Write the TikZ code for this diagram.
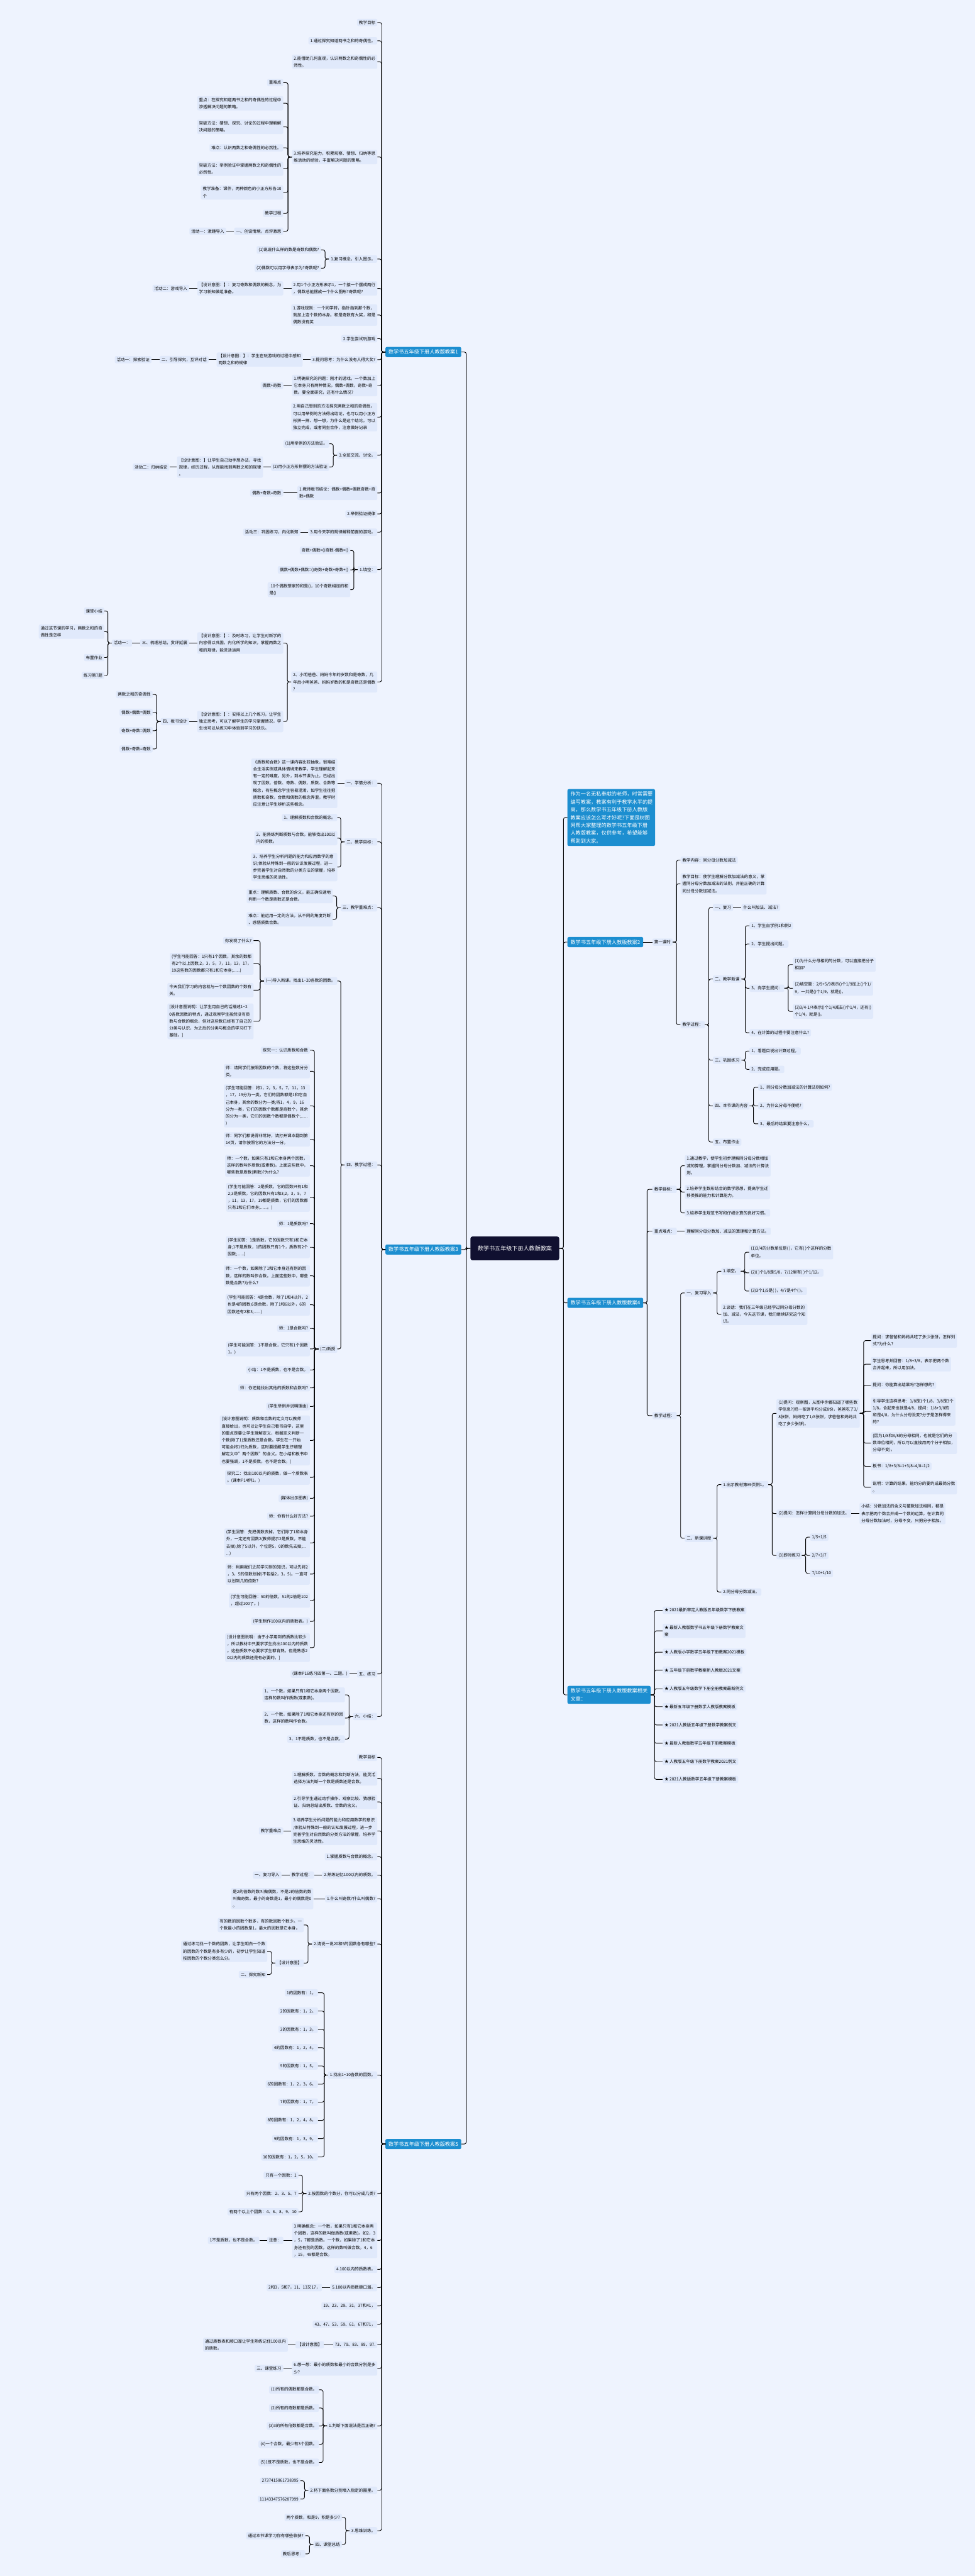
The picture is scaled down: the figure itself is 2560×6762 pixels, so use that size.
\documentclass[tikz,border=0pt]{standalone}
\usepackage{fontspec}
\setmainfont{Noto Sans CJK SC}
\usetikzlibrary{positioning}
\definecolor{Cfundo}{RGB}{238,243,254}
\definecolor{Ccaixa}{RGB}{224,233,251}
\definecolor{Cazul}{RGB}{28,142,208}
\definecolor{Cnoite}{RGB}{16,16,48}

\tikzset{
  caixa/.style={fill=Ccaixa, rounded corners=4pt, inner xsep=5pt, inner ysep=4.5pt,
    align=left, font=\fontsize{10.8}{18.5}\selectfont},
  esq/.style={caixa, anchor=east},
  dir/.style={caixa, anchor=west},
  ramo/.style={fill=Cazul, text=white, rounded corners=4pt, inner xsep=8pt, inner ysep=7pt,
    align=left, font=\fontsize{13.5}{20.5}\selectfont},
  liga/.style={draw=black, line width=1.5pt, rounded corners=5pt}
}

\begin{document}
\begin{tikzpicture}[x=1pt, y=-1pt]
  \fill[Cfundo] (0,0) rectangle (2560,6762);
  \useasboundingbox (0,0) rectangle (2560,6762);

  % centro
  \node[fill=Cnoite, text=white, rounded corners=5pt, inner xsep=19pt, inner ysep=24pt,
    font=\fontsize{15}{20}\selectfont] (C) at (1352,3277) {数学书五年级下册人教版教案};

  % ramos
  \node[ramo, anchor=west] (B1) at (1012,924) {数学书五年级下册人教版教案1};
  \node[ramo, anchor=west] (B3) at (1012,3280) {数学书五年级下册人教版教案3};
  \node[ramo, anchor=west] (B5) at (1012,5628) {数学书五年级下册人教版教案5};
  \node[ramo, anchor=west, text width=214pt] (I) at (1490,2146) {作为一名无私奉献的老师，时常需要\\编写教案，教案有利于教学水平的提\\高。那么数学书五年级下册人教版\\教案应该怎么写才好呢?下面是树图\\网帮大家整理的数学书五年级下册\\人教版教案，仅供参考，希望能够\\帮助到大家。};
  \node[ramo, anchor=west] (B2) at (1490,2473) {数学书五年级下册人教版教案2};
  \node[ramo, anchor=west] (B4) at (1490,3420) {数学书五年级下册人教版教案4};
  \node[ramo, anchor=west] (B6) at (1490,4449) {数学书五年级下册人教版教案相关\\文章：};

  \foreach \n in {B1,B3,B5} \draw[liga] (C.west) -- ++(-11,0) |- (\n.east);
  \foreach \n in {I,B2,B4,B6} \draw[liga] (C.east) -- ++(11,0) |- (\n.west);

  % ---------- 教案1 ----------
  \node[esq] (a1) at (991,59) {教学目标};
  \node[esq] (a2) at (991,107) {1.通过探究知道两书之和的奇偶性。};
  \node[esq] (a3) at (991,162) {2.能借助几何直观，认识两数之和奇偶性的必\\然性。};
  \node[esq] (a4) at (991,412) {3.培养探究能力，积累观察、猜想、归纳等思\\维活动的经验，丰富解决问题的策略。};
  \node[esq] (a5) at (991,680) {1.复习概念，引入图示。};
  \node[esq] (a6) at (991,757) {2.用1个小正方形表示1，一个接一个摆成两行\\，偶数总能摆成一个什么图形?奇数呢?};
  \node[esq] (a7) at (991,827) {1.游戏规则：一个同学转，指针指到那个数，\\就加上这个数的本身。和是奇数有大奖，和是\\偶数没有奖};
  \node[esq] (a8) at (991,889) {2.学生尝试玩游戏};
  \node[esq] (a9) at (991,944) {3.提问思考：为什么没有人得大奖?};
  \node[esq] (a10) at (991,1012) {1.明确探究的问题：刚才的游戏，一个数加上\\它本身只有两种情况，偶数+偶数，奇数+奇\\数。要全面研究，还有什么情况?};
  \node[esq] (a11) at (991,1095) {2.用自己想到的方法探究两数之和的奇偶性。\\可以用举例的方法得出结论，也可以用小正方\\形拼一拼、想一想，为什么是这个结论。可以\\独立完成，或者同坐合作，注意做好记录};
  \node[esq] (a12) at (991,1195) {3.全班交流、讨论。};
  \node[esq] (a13) at (991,1294) {1.教师板书结论：偶数+偶数=偶数奇数+奇\\数=偶数};
  \node[esq] (a14) at (991,1349) {2.举例验证规律};
  \node[esq] (a15) at (991,1397) {3.用今天学的规律解释前面的游戏。};
  \node[esq] (a16) at (991,1495) {1.填空：};
  \node[esq] (a17) at (991,1790) {2、小明爸爸、妈妈今年的岁数和是奇数，几\\年后小明爸爸、妈妈岁数的和是奇数还是偶数\\?};
  \foreach \n in {a1,a2,a3,a4,a5,a6,a7,a8,a9,a10,a11,a12,a13,a14,a15,a16,a17}
    \draw[liga] (B1.west) -- ++(-10,0) |- (\n.east);

  \node[esq] (a4a) at (744,217) {重难点};
  \node[esq] (a4b) at (744,271) {重点：在探究知道两书之和的奇偶性的过程中\\渗透解决问题的策略。};
  \node[esq] (a4c) at (744,333) {突破方法：猜想、探究、讨论的过程中理解解\\决问题的策略。};
  \node[esq] (a4d) at (744,388) {难点：认识两数之和奇偶性的必然性。};
  \node[esq] (a4e) at (744,443) {突破方法：举例验证中掌握两数之和奇偶性的\\必然性。};
  \node[esq] (a4f) at (744,505) {教学准备：课件，两种颜色的小正方形各10\\个};
  \node[esq] (a4g) at (744,560) {教学过程};
  \node[esq] (a4h) at (744,607) {一、创设情境，点评激思};
  \node[esq] (a4i) at (594,607) {活动一：激趣导入};
  \foreach \n in {a4a,a4b,a4c,a4d,a4e,a4f,a4g,a4h}
    \draw[liga] (a4.west) -- ++(-10,0) |- (\n.east);
  \draw[liga] (a4h.west) -- (a4i.east);

  \node[esq] (a5a) at (843,656) {(1)说说什么样的数是奇数和偶数?};
  \node[esq] (a5b) at (843,704) {(2)偶数可以用字母表示为?奇数呢?};
  \foreach \n in {a5a,a5b} \draw[liga] (a5.west) -- ++(-10,0) |- (\n.east);

  \node[esq] (a6a) at (744,757) {【设计意图：】：复习奇数和偶数的概念，为\\学习新知做组准备。};
  \node[esq] (a6b) at (497,757) {活动二：游戏导入};
  \draw[liga] (a6.west) -- (a6a.east);
  \draw[liga] (a6a.west) -- (a6b.east);

  \node[esq] (a9a) at (795,944) {【设计意图：】：学生在玩游戏的过程中感知\\两数之和的规律};
  \node[esq] (a9b) at (548,944) {二、引导探究，互评对话};
  \node[esq] (a9c) at (398,944) {活动一：探索验证};
  \draw[liga] (a9.west) -- (a9a.east);
  \draw[liga] (a9a.west) -- (a9b.east);
  \draw[liga] (a9b.west) -- (a9c.east);

  \node[esq] (a10a) at (744,1012) {偶数+奇数};
  \draw[liga] (a10.west) -- (a10a.east);

  \node[esq] (a12a) at (865,1165) {(1)用举例的方法验证。};
  \node[esq] (a12b) at (865,1226) {(2)用小正方形拼摆的方法验证};
  \foreach \n in {a12a,a12b} \draw[liga] (a12.west) -- ++(-10,0) |- (\n.east);
  \node[esq] (a12c) at (691,1226) {【设计意图：】让学生自己动手想办法，寻找\\规律，经历过程，从而能找到两数之和的规律\\。};
  \node[esq] (a12d) at (445,1226) {活动二：归纳结论};
  \draw[liga] (a12b.west) -- (a12c.east);
  \draw[liga] (a12c.west) -- (a12d.east);

  \node[esq] (a13a) at (744,1294) {偶数+奇数=奇数};
  \draw[liga] (a13.west) -- (a13a.east);
  \node[esq] (a15a) at (789,1397) {活动三：巩固练习，内化新知};
  \draw[liga] (a15.west) -- (a15a.east);

  \node[esq] (a16a) at (920,1445) {奇数+偶数=()奇数-偶数=()};
  \node[esq] (a16b) at (920,1496) {偶数+偶数+偶数=()奇数+奇数+奇数+()};
  \node[esq] (a16c) at (920,1548) {.10个偶数想家的和是()，10个奇数相加的和\\是()};
  \foreach \n in {a16a,a16b,a16c} \draw[liga] (a16.west) -- ++(-10,0) |- (\n.east);

  \node[esq] (a17a) at (744,1688) {【设计意图：】：及时练习，让学生对新学的\\内容得以巩固，内化所学的知识，掌握两数之\\和的规律，能灵活运用};
  \node[esq] (a17d) at (744,1894) {【设计意图：】：安排以上几个练习，让学生\\独立思考，可以了解学生的学习掌握情况，学\\生也可以从练习中体验到学习的快乐。};
  \foreach \n in {a17a,a17d} \draw[liga] (a17.west) -- ++(-10,0) |- (\n.east);
  \node[esq] (a17b) at (497,1688) {三、梳理总结，赏评延展};
  \node[esq] (a17c) at (347,1688) {活动一：};
  \draw[liga] (a17a.west) -- (a17b.east);
  \draw[liga] (a17b.west) -- (a17c.east);
  \node[esq] (p1) at (274,1604) {课堂小结};
  \node[esq] (p2) at (274,1658) {通过这节课的学习，两数之和的奇\\偶性是怎样};
  \node[esq] (p3) at (274,1726) {布置作业};
  \node[esq] (p4) at (274,1773) {练习第7题};
  \foreach \n in {p1,p2,p3,p4} \draw[liga] (a17c.west) -- ++(-10,0) |- (\n.east);

  \node[esq] (a17e) at (497,1894) {四、板书设计};
  \draw[liga] (a17d.west) -- (a17e.east);
  \node[esq] (q1) at (401,1823) {两数之和的奇偶性};
  \node[esq] (q2) at (401,1870) {偶数+偶数=偶数};
  \node[esq] (q3) at (401,1918) {奇数+奇数=偶数};
  \node[esq] (q4) at (401,1966) {偶数+奇数=奇数};
  \foreach \n in {q1,q2,q3,q4} \draw[liga] (a17e.west) -- ++(-10,0) |- (\n.east);

  % ---------- 教案3 ----------
  \node[esq] (c1) at (991,2056) {一、学情分析：};
  \node[esq] (c2) at (991,2210) {二、教学目标：};
  \node[esq] (c3) at (991,2383) {三、教学重难点：};
  \node[esq] (c4) at (991,3058) {四、教学过程：};
  \node[esq] (c5) at (991,4394) {五、练习};
  \node[esq] (c6) at (991,4506) {六、小结：};
  \foreach \n in {c1,c2,c3,c4,c5,c6} \draw[liga] (B3.west) -- ++(-10,0) |- (\n.east);

  \node[esq] (c1a) at (886,2056) {《质数和合数》这一课内容比较抽象，很难结\\合生活实例或具体情境来教学，学生理解起来\\有一定的难度。另外，到本节课为止，已经出\\现了因数、倍数、奇数、偶数、质数、合数等\\概念，有些概念学生容易混淆，如学生往往把\\质数和奇数，合数和偶数的概念弄混，教学时\\应注意让学生辨析这些概念。};
  \draw[liga] (c1.west) -- (c1a.east);

  \node[esq] (c2a) at (886,2146) {1、理解质数和合数的概念。};
  \node[esq] (c2b) at (886,2200) {2、能熟练判断质数与合数，能够找出100以\\内的质数。};
  \node[esq] (c2c) at (886,2276) {3、培养学生分析问题的能力和应用数学的意\\识;体验从特殊到一般的认识发展过程，进一\\步完善学生对自然数的分类方法的掌握，培养\\学生思维的灵活性。};
  \foreach \n in {c2a,c2b,c2c} \draw[liga] (c2.west) -- ++(-10,0) |- (\n.east);

  \node[esq] (c3a) at (874,2352) {重点：理解质数、合数的含义，能正确快速地\\判断一个数是质数还是合数。};
  \node[esq] (c3b) at (874,2413) {难点：能运用一定的方法，从不同的角度判断\\、感悟质数合数。};
  \foreach \n in {c3a,c3b} \draw[liga] (c3.west) -- ++(-10,0) |- (\n.east);

  \node[esq] (c4a) at (886,2575) {(一)导入新课。找出1\textasciitilde20各数的因数。};
  \node[esq] (c4b) at (886,3541) {(二)新授};
  \foreach \n in {c4a,c4b} \draw[liga] (c4.west) -- ++(-10,0) |- (\n.east);

  \node[esq] (d1) at (666,2469) {你发现了什么?};
  \node[esq] (d2) at (666,2530) {(学生可能回答：1只有1个因数，其余的数都\\有2个以上因数;2，3，5，7，11，13，17，\\19这些数的因数都只有1和它本身;......)};
  \node[esq] (d3) at (666,2599) {今天我们学习的内容就与一个数因数的个数有\\关。};
  \node[esq] (d4) at (666,2681) {[设计意图说明：让学生用自己的话描述1\textasciitilde2\\0各数因数的特点，通过观察学生虽然没有质\\数与合数的概念，但对这些数已经有了自己的\\分类与认识，为之后的分类与概念的学习打下\\基础。]};
  \foreach \n in {d1,d2,d3,d4} \draw[liga] (c4a.west) -- ++(-10,0) |- (\n.east);

  \node[esq] (f1) at (814,2757) {探究一：认识质数和合数};
  \node[esq] (f2) at (814,2812) {师：请同学们按照因数的个数，将这些数分分\\类。};
  \node[esq] (f3) at (814,2903) {(学生可能回答：将1，2，3，5，7，11，13\\，17，19分为一类，它们的因数都是1和它自\\己本身，其余的数分为一类;将1，4，9，16\\分为一类，它们的因数个数都是奇数个，其余\\的分为一类，它们的因数个数都是偶数个;......\\)};
  \node[esq] (f4) at (814,2991) {师：同学们都说得非常好，请打开课本翻到第\\14页，请你按照它的方法分一分。};
  \node[esq] (f5) at (814,3060) {师：一个数，如果只有1和它本身两个因数，\\这样的数叫作质数(或素数)。上面这些数中，\\哪些数是质数(素数)?为什么?};
  \node[esq] (f6) at (814,3143) {(学生可能回答：2是质数，它的因数只有1和\\2;3是质数，它的因数只有1和3;2，3，5，7\\，11，13，17，19都是质数，它们的因数都\\只有1和它们本身;......。)};
  \node[esq] (f7) at (814,3212) {师：1是质数吗?};
  \node[esq] (f8) at (814,3274) {(学生回答：1是质数，它的因数只有1和它本\\身;1不是质数，1的因数只有1个，质数有2个\\因数;......)};
  \node[esq] (f9) at (814,3349) {师：一个数，如果除了1和它本身还有别的因\\数，这样的数叫作合数。上面这些数中，哪些\\数是合数?为什么?};
  \node[esq] (f10) at (814,3425) {(学生可能回答：4是合数，除了1和4以外，2\\也是4的因数;6是合数，除了1和6以外，6的\\因数还有2和3;......)};
  \node[esq] (f11) at (814,3487) {师：1是合数吗?};
  \node[esq] (f12) at (814,3541) {(学生可能回答：1不是合数，它只有1个因数\\1。)};
  \node[esq] (f13) at (814,3596) {小结：1不是质数，也不是合数。};
  \node[esq] (f14) at (814,3643) {师：你还能找出其他的质数和合数吗?};
  \node[esq] (f15) at (814,3692) {(学生举例并说明理由)};
  \node[esq] (f16) at (814,3781) {[设计意图说明：质数和合数的定义可以教师\\直接给出，也可以让学生自己看书自学，这里\\的重点是要让学生理解定义，根据定义判断一\\个数(除了1)是质数还是合数。学生在一开始\\可能会将1归为质数，这时要提醒学生仔细理\\解定义中"两个因数"的含义。在小结和板书中\\也要强调，1不是质数，也不是合数。]};
  \node[esq] (f17) at (814,3878) {探究二：找出100以内的质数，做一个质数表\\。(课本P14例1。)};
  \node[esq] (f18) at (814,3933) {(媒体出示图表)};
  \node[esq] (f19) at (814,3980) {师：你有什么好方法?};
  \node[esq] (f20) at (814,4050) {(学生回答：先把偶数去掉，它们除了1和本身\\外，一定还有因数2(教师提示2是质数，不能\\去掉);除了5以外，个位是5，0的数先去掉;...\\...)};
  \node[esq] (f21) at (814,4132) {师：利用我们之前学习到的知识，可以先将2\\，3，5的倍数划掉(不包括2，3，5)。一直可\\以划到几的倍数?};
  \node[esq] (f22) at (814,4201) {(学生可能回答：50的倍数，51的2倍是102\\，超过100了。)};
  \node[esq] (f23) at (814,4256) {(学生制作100以内的质数表。)};
  \node[esq] (f24) at (814,4325) {[设计意图说明：由于小学用到的质数比较少\\，所以教材中只要求学生找出100以内的质数\\。这些质数不必要求学生都背熟，但是熟悉2\\0以内的质数还是有必要的。]};
  \foreach \n in {f1,f2,f3,f4,f5,f6,f7,f8,f9,f10,f11,f12,f13,f14,f15,f16,f17,f18,f19,f20,f21,f22,f23,f24}
    \draw[liga] (c4b.west) -- ++(-10,0) |- (\n.east);

  \node[esq] (c5a) at (918,4394) {(课本P16练习四第一、二题。)};
  \draw[liga] (c5.west) -- (c5a.east);

  \node[esq] (g1) at (906,4449) {1、一个数，如果只有1和它本身两个因数，\\这样的数叫作质数(或素数)。};
  \node[esq] (g2) at (906,4510) {2、一个数，如果除了1和它本身还有别的因\\数，这样的数叫作合数。};
  \node[esq] (g3) at (906,4565) {3、1不是质数，也不是合数。};
  \foreach \n in {g1,g2,g3} \draw[liga] (c6.west) -- ++(-10,0) |- (\n.east);

  % ---------- 教案5 ----------
  \node[esq] (e1) at (991,4613) {教学目标};
  \node[esq] (e2) at (991,4668) {1.理解质数、合数的概念和判断方法，能灵活\\选择方法判断一个数是质数还是合数。};
  \node[esq] (e3) at (991,4730) {2.引导学生通过动手操作、观察比较、猜想验\\证、归纳总结出质数、合数的含义。};
  \node[esq] (e4) at (991,4806) {3.培养学生分析问题的能力和应用数学的意识\\;体验从特殊到一般的认知发展过程，进一步\\完善学生对自然数的分类方法的掌握，培养学\\生思维的灵活性。};
  \node[esq] (e5) at (991,4874) {1.掌握质数与合数的概念。};
  \node[esq] (e6) at (991,4922) {2.熟练记忆100以内的质数。};
  \node[esq] (e7) at (991,4984) {1.什么叫奇数?什么叫偶数?};
  \node[esq] (e8) at (991,5103) {2.请说一说20和5的因数各有哪些?};
  \node[esq] (e9) at (991,5447) {1.找出1\textasciitilde10各数的因数。};
  \node[esq] (e10) at (991,5758) {2.按因数的个数分，你可以分成几类?};
  \node[esq] (e11) at (991,5881) {3.明确概念：一个数，如果只有1和它本身两\\个因数，这样的数叫做质数(或素数)。如2，3\\，5，7都是质数。一个数，如果除了1和它本\\身还有别的因数，这样的数叫做合数。4，6\\，15，49都是合数。};
  \node[esq] (e12) at (991,5957) {4.100以内的质数表。};
  \node[esq] (e13) at (991,6005) {5.100以内质数顺口溜。};
  \node[esq] (e14) at (991,6053) {19、23、29、31，37和41，};
  \node[esq] (e15) at (991,6101) {43、47、53、59、61，67和71，};
  \node[esq] (e16) at (991,6155) {73、79、83、89、97.};
  \node[esq] (e17) at (991,6217) {6.想一想：最小的质数和最小的合数分别是多\\少?};
  \node[esq] (e18) at (991,6368) {1.判断下面说法是否正确?};
  \node[esq] (e19) at (991,6537) {2.将下面各数分别填入指定的圈里。};
  \node[esq] (e20) at (991,6643) {3.思维训练。};
  \foreach \n in {e1,e2,e3,e4,e5,e6,e7,e8,e9,e10,e11,e12,e13,e14,e15,e16,e17,e18,e19,e20}
    \draw[liga] (B5.west) -- ++(-10,0) |- (\n.east);

  \node[esq] (e4a) at (744,4806) {教学重难点};
  \draw[liga] (e4.west) -- (e4a.east);
  \node[esq] (e6a) at (825,4922) {教学过程：};
  \node[esq] (e6b) at (739,4922) {一、复习导入};
  \draw[liga] (e6.west) -- (e6a.east);
  \draw[liga] (e6a.west) -- (e6b.east);
  \node[esq] (e7a) at (823,4984) {是2的倍数的数叫做偶数，不是2的倍数的数\\叫做奇数。最小的奇数是1，最小的偶数是0\\。};
  \draw[liga] (e7.west) -- (e7a.east);

  \node[esq] (e8a) at (798,5053) {有的数的因数个数多，有的数因数个数少。一\\个数最小的因数是1，最大的因数是它本身。};
  \node[esq] (e8b) at (798,5153) {【设计意图】};
  \foreach \n in {e8a,e8b} \draw[liga] (e8.west) -- ++(-10,0) |- (\n.east);
  \node[esq] (e8c) at (702,5122) {通过练习找一个数的因数，让学生明白一个数\\的因数的个数是有多有少的，初步让学生知道\\按因数的个数分类怎么分。};
  \node[esq] (e8d) at (702,5183) {二、探究新知};
  \foreach \n in {e8c,e8d} \draw[liga] (e8b.west) -- ++(-10,0) |- (\n.east);

  \node[esq] (h1) at (835,5231) {1的因数有：1。};
  \node[esq] (h2) at (835,5279) {2的因数有：1，2。};
  \node[esq] (h3) at (835,5327) {3的因数有：1，3。};
  \node[esq] (h4) at (835,5375) {4的因数有：1，2，4。};
  \node[esq] (h5) at (835,5423) {5的因数有：1，5。};
  \node[esq] (h6) at (835,5471) {6的因数有：1，2，3，6。};
  \node[esq] (h7) at (835,5518) {7的因数有：1，7。};
  \node[esq] (h8) at (835,5566) {8的因数有：1，2，4，8。};
  \node[esq] (h9) at (835,5614) {9的因数有：1，3，9。};
  \node[esq] (h10) at (835,5662) {10的因数有：1，2，5，10。};
  \foreach \n in {h1,h2,h3,h4,h5,h6,h7,h8,h9,h10} \draw[liga] (e9.west) -- ++(-10,0) |- (\n.east);

  \node[esq] (e10a) at (784,5710) {只有一个因数：1};
  \node[esq] (e10b) at (784,5758) {只有两个因数：2、3、5、7};
  \node[esq] (e10c) at (784,5806) {有两个以上个因数：4、6、8、9、10};
  \foreach \n in {e10a,e10b,e10c} \draw[liga] (e10.west) -- ++(-10,0) |- (\n.east);

  \node[esq] (e11a) at (744,5881) {注意：};
  \node[esq] (e11b) at (681,5881) {1不是质数，也不是合数。};
  \draw[liga] (e11.west) -- (e11a.east);
  \draw[liga] (e11a.west) -- (e11b.east);

  \node[esq] (e13a) at (846,6005) {2和3，5和7，11、13又17，};
  \draw[liga] (e13.west) -- (e13a.east);
  \node[esq] (e16a) at (851,6155) {【设计意图】};
  \node[esq] (e16b) at (756,6155) {通过质数表和顺口溜让学生熟练记住100以内\\的质数。};
  \draw[liga] (e16.west) -- (e16a.east);
  \draw[liga] (e16a.west) -- (e16b.east);
  \node[esq] (e17a) at (744,6217) {三、课堂练习};
  \draw[liga] (e17.west) -- (e17a.east);

  \node[esq] (k1) at (838,6273) {(1)所有的偶数都是合数。};
  \node[esq] (k2) at (838,6321) {(2)所有的奇数都是质数。};
  \node[esq] (k3) at (838,6368) {(3)3的所有倍数都是合数。};
  \node[esq] (k4) at (838,6416) {(4)一个合数，最少有3个因数。};
  \node[esq] (k5) at (838,6464) {(5)1既不是质数，也不是合数。};
  \foreach \n in {k1,k2,k3,k4,k5} \draw[liga] (e18.west) -- ++(-10,0) |- (\n.east);

  \node[esq] (m1) at (789,6512) {2737415861738395};
  \node[esq] (m2) at (789,6560) {11143347576287999};
  \foreach \n in {m1,m2} \draw[liga] (e19.west) -- ++(-10,0) |- (\n.east);

  \node[esq] (n1) at (898,6608) {两个质数，和是9，积是多少?};
  \node[esq] (n2) at (898,6679) {四、课堂总结};
  \foreach \n in {n1,n2} \draw[liga] (e20.west) -- ++(-10,0) |- (\n.east);
  \node[esq] (n3) at (802,6656) {通过本节课学习你有哪些收获?};
  \node[esq] (n4) at (802,6704) {教后思考：};
  \foreach \n in {n3,n4} \draw[liga] (n2.west) -- ++(-10,0) |- (\n.east);

  % ---------- 教案2 ----------
  \node[dir] (r0) at (1713,2473) {第一课时};
  \draw[liga] (B2.east) -- (r0.west);
  \node[dir] (r1) at (1787,2258) {教学内容：同分母分数加减法};
  \node[dir] (r2) at (1787,2320) {教学目标：使学生理解分数加减法的意义，掌\\握同分母分数加减法的法则，并能正确的计算\\同分母分数加减法。};
  \node[dir] (r3) at (1787,2690) {教学过程：};
  \foreach \n in {r1,r2,r3} \draw[liga] (r0.east) -- ++(10,0) |- (\n.west);

  \node[dir] (s1) at (1872,2382) {一、复习};
  \node[dir] (s2) at (1872,2570) {二、教学新课};
  \node[dir] (s3) at (1872,2783) {三、巩固练习};
  \node[dir] (s4) at (1872,2903) {四、本节课的内容};
  \node[dir] (s5) at (1872,2998) {五、布置作业};
  \foreach \n in {s1,s2,s3,s4,s5} \draw[liga] (r3.east) -- ++(10,0) |- (\n.west);

  \node[dir] (s1a) at (1947,2382) {什么叫加法、减法?};
  \draw[liga] (s1.east) -- (s1a.west);

  \node[dir] (s2a) at (1968,2430) {1、学生自学例1和例2};
  \node[dir] (s2b) at (1968,2478) {2、学生提出问题。};
  \node[dir] (s2c) at (1968,2594) {3、向学生提问：};
  \node[dir] (s2d) at (1968,2711) {4、在计算的过程中要注意什么?};
  \foreach \n in {s2a,s2b,s2c,s2d} \draw[liga] (s2.east) -- ++(10,0) |- (\n.west);

  \node[dir] (t1) at (2082,2532) {(1)为什么分母相同的分数，可以直接把分子\\相加?};
  \node[dir] (t2) at (2082,2594) {(2)填空题：2/9+5/9表示()个1/9加上()个1/\\9，一共是()个1/9，就是()。};
  \node[dir] (t3) at (2082,2655) {(3)3/4-1/4表示()个1/4减去()个1/4，还有()\\个1/4，就是()。};
  \foreach \n in {t1,t2,t3} \draw[liga] (s2c.east) -- ++(10,0) |- (\n.west);

  \node[dir] (s3a) at (1968,2759) {1、看题目说出计算过程。};
  \node[dir] (s3b) at (1968,2807) {2、完成应用题。};
  \foreach \n in {s3a,s3b} \draw[liga] (s3.east) -- ++(10,0) |- (\n.west);

  \node[dir] (s4a) at (1991,2854) {1、同分母分数加减法的计算法则如何?};
  \node[dir] (s4b) at (1991,2903) {2、为什么分母不便呢?};
  \node[dir] (s4c) at (1991,2950) {3、最后的结果要注意什么。};
  \foreach \n in {s4a,s4b,s4c} \draw[liga] (s4.east) -- ++(10,0) |- (\n.west);

  % ---------- 教案4 ----------
  \node[dir] (u1) at (1713,3122) {教学目标：};
  \node[dir] (u2) at (1713,3232) {重点难点：};
  \node[dir] (u3) at (1713,3716) {教学过程：};
  \foreach \n in {u1,u2,u3} \draw[liga] (B4.east) -- ++(10,0) |- (\n.west);

  \node[dir] (u1a) at (1798,3060) {1.通过教学，使学生初步理解同分母分数相加\\减的算理，掌握同分母分数加、减法的计算法\\则。};
  \node[dir] (u1b) at (1798,3129) {2.培养学生数形结合的数学思想，提高学生迁\\移类推的能力和计算能力。};
  \node[dir] (u1c) at (1798,3184) {3.培养学生规范书写和仔细计算的良好习惯。};
  \foreach \n in {u1a,u1b,u1c} \draw[liga] (u1.east) -- ++(10,0) |- (\n.west);
  \node[dir] (u2a) at (1798,3232) {理解同分母分数加、减法的算理和计算方法。};
  \draw[liga] (u2.east) -- (u2a.west);

  \node[dir] (v1) at (1798,3394) {一、复习导入};
  \node[dir] (v2) at (1798,4038) {二、新课讲授};
  \foreach \n in {v1,v2} \draw[liga] (u3.east) -- ++(10,0) |- (\n.west);

  \node[dir] (w1) at (1894,3337) {1.填空。};
  \node[dir] (w2) at (1894,3450) {2.谈话：我们在三年级已经学过同分母分数的\\加、减法，今天这节课，我们继续研究这个知\\识。};
  \foreach \n in {w1,w2} \draw[liga] (v1.east) -- ++(10,0) |- (\n.west);
  \node[dir] (w1a) at (1967,3287) {(1)3/4的分数单位是( )，它有( )个这样的分数\\单位。};
  \node[dir] (w1b) at (1967,3341) {(2)( )个1/8是5/8，7/12里有( )个1/12。};
  \node[dir] (w1c) at (1967,3389) {(3)3个1/5是( )，4/7是4个( )。};
  \foreach \n in {w1a,w1b,w1c} \draw[liga] (w1.east) -- ++(10,0) |- (\n.west);

  \node[dir] (x1) at (1894,3897) {1.出示教材第89页例1。};
  \node[dir] (x2) at (1894,4179) {2.同分母分数减法。};
  \foreach \n in {x1,x2} \draw[liga] (v2.east) -- ++(10,0) |- (\n.west);

  \node[dir] (y1) at (2039,3710) {(1)提问：观察图，从图中你都知道了哪些数\\学信息?(把一张饼平均分成8份，爸爸吃了3/\\8张饼，妈妈吃了1/8张饼，求爸爸和妈妈共\\吃了多少张饼)。};
  \node[dir] (y2) at (2039,3973) {(2)提问：怎样计算同分母分数的加法。};
  \node[dir] (y3) at (2039,4083) {(3)即时练习};
  \foreach \n in {y1,y2,y3} \draw[liga] (x1.east) -- ++(10,0) |- (\n.west);

  \node[dir] (z1) at (2287,3519) {提问：求爸爸和妈妈共吃了多少张饼，怎样列\\式?为什么?};
  \node[dir] (z2) at (2287,3581) {学生思考并回答：1/8+3/8，表示把两个数\\合并起来，所以用加法。};
  \node[dir] (z3) at (2287,3636) {提问：你能算出结果吗?怎样想的?};
  \node[dir] (z4) at (2287,3705) {引导学生这样思考：1/8是1个1/8，3/8是3个\\1/8，合起来也就是4/8，提问：1/8+3/8的\\和是4/8，为什么分母没变?分子是怎样得来\\的?};
  \node[dir] (z5) at (2287,3788) {(因为1/8和3/8的分母相同，也就是它们的分\\数单位相同，所以可以直接用两个分子相加，\\分母不变)。};
  \node[dir] (z6) at (2287,3849) {板书：1/8+3/8=1+3/8=4/8=1/2};
  \node[dir] (z7) at (2287,3904) {说明：计算的结果，能约分的要约成最简分数\\。};
  \foreach \n in {z1,z2,z3,z4,z5,z6,z7} \draw[liga] (y1.east) -- ++(10,0) |- (\n.west);

  \node[dir] (y2a) at (2257,3973) {小结：分数加法的含义与整数加法相同，都是\\表示把两个数合并成一个数的运算。在计算同\\分母分数加法时，分母不变，只把分子相加。};
  \draw[liga] (y2.east) -- (y2a.west);

  \node[dir] (y3a) at (2127,4035) {1/5+1/5};
  \node[dir] (y3b) at (2127,4083) {2/7+3/7};
  \node[dir] (y3c) at (2127,4130) {7/10+1/10};
  \foreach \n in {y3a,y3b,y3c} \draw[liga] (y3.east) -- ++(10,0) |- (\n.west);

  % ---------- 相关文章 ----------
  \node[dir] (o1) at (1740,4227) {★ 2021最新审定人教版五年级数学下册教案};
  \node[dir] (o2) at (1740,4281) {★ 最新人教版数学书五年级下册数学教案文\\案};
  \node[dir] (o3) at (1740,4337) {★ 人教版小学数学五年级下册教案2021模板};
  \node[dir] (o4) at (1740,4384) {★ 五年级下册数学教案新人教版2021文案};
  \node[dir] (o5) at (1740,4433) {★ 人教版五年级数学下册全册教案最新例文};
  \node[dir] (o6) at (1740,4480) {★ 最新五年级下册数学人教版教案模板};
  \node[dir] (o7) at (1740,4528) {★ 2021人教版五年级下册数学教案例文};
  \node[dir] (o8) at (1740,4576) {★ 最新人教版数学五年级下册教案模板};
  \node[dir] (o9) at (1740,4624) {★ 人教版五年级下册数学教案2021例文};
  \node[dir] (o10) at (1740,4671) {★ 2021人教版数学五年级下册教案模板};
  \foreach \n in {o1,o2,o3,o4,o5,o6,o7,o8,o9,o10} \draw[liga] (B6.east) -- ++(10,0) |- (\n.west);
\end{tikzpicture}
\end{document}
